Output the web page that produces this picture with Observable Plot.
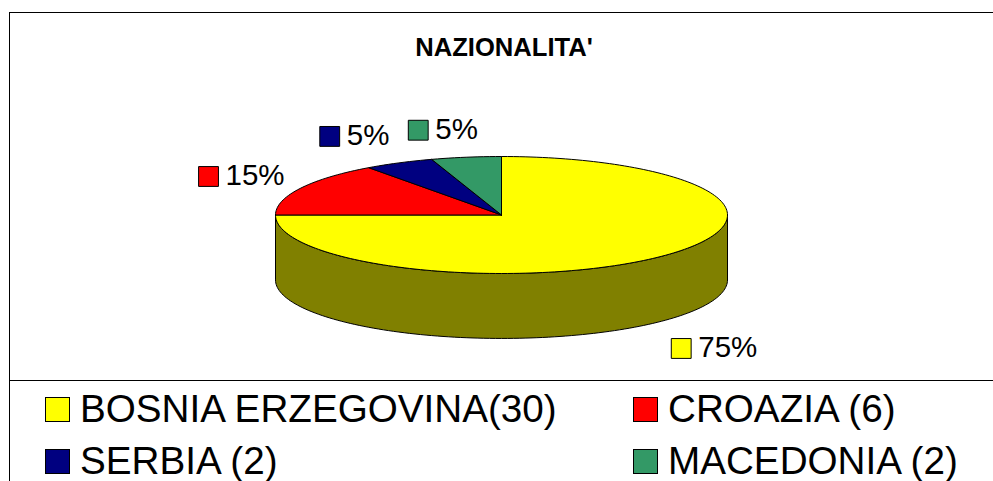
<!DOCTYPE html>
<html>
<head>
<meta charset="utf-8">
<script src="https://cdn.jsdelivr.net/npm/d3@7"></script>
<script src="https://cdn.jsdelivr.net/npm/@observablehq/plot@0.6"></script>
<style>
  html, body { margin: 0; padding: 0; background: #fff; }
  #page { position: relative; width: 993px; height: 481px; overflow: hidden; font-family: "Liberation Sans", Arial, sans-serif; }
  #chart { height: 380px; }
  #chart svg { display: block; }
  #edge { position: absolute; left: 9px; top: 12px; right: 0; bottom: 0; border-left: 1.5px solid #000; border-top: 1.5px solid #000; pointer-events: none; }
  #legend { position: absolute; left: 9px; right: 0; top: 380px; bottom: 0; border-top: 1.5px solid #000; }
  .item { position: absolute; display: flex; align-items: center; height: 40px; font-size: 38.65px; line-height: 40px; color: #000; white-space: nowrap; }
  .swatch { width: 23px; height: 23px; border: 1px solid #000; margin-right: 10px; flex: none; }
</style>
</head>
<body>
<div id="page">
  <div id="chart"></div>
  <div id="edge"></div>
  <div id="legend"></div>
</div>
<script>
const title = "NAZIONALITA'";
const names = ["BOSNIA ERZEGOVINA", "CROAZIA", "SERBIA", "MACEDONIA"];
const legendLabels = ["BOSNIA ERZEGOVINA(30)", "CROAZIA (6)", "SERBIA (2)", "MACEDONIA (2)"];
const counts = [30, 6, 2, 2];
const colors = ["#FFFF00", "#FF0000", "#000080", "#339966"];
const sideColor = "#808000";

// Layout only (not data)
const depth = 1.11;            // height of the pie's rim, in radii of the y scale
const reach = 1.45;            // label anchor distance along each slice's middle angle
const nudges = [[-52, 73.5], [-1, 0], [-23, -3], [-32, -1]];

const slices = d3.pie().sort(null)(counts);
const total = d3.sum(counts);
const arcPoint = (a) => ({ x: Math.sin(a), y: Math.cos(a) });

function sweep(a0, a1) {
  const n = Math.max(2, Math.ceil(Math.abs(a1 - a0) / (Math.PI / 120)));
  return d3.range(n + 1).map((i) => arcPoint(a0 + ((a1 - a0) * i) / n));
}

// The rim: lower half of the ellipse, dropped by the depth
const rimTop = sweep(Math.PI / 2, 1.5 * Math.PI);
const rim = [
  ...rimTop.map((p) => ({ ...p, y: p.y - depth })),
  ...rimTop.slice().reverse()
];
rim.push(rim[0]);

const wedges = slices.flatMap((s, i) => {
  const ring = [{ x: 0, y: 0 }, ...sweep(s.startAngle, s.endAngle), { x: 0, y: 0 }];
  return ring.map((p) => ({ ...p, name: names[i] }));
});

const labels = slices.map((s, i) => {
  const mid = (s.startAngle + s.endAngle) / 2;
  return {
    x: Math.sin(mid) * reach,
    y: Math.cos(mid) * reach,
    name: names[i],
    text: d3.format(".0%")(counts[i] / total),
    nudge: nudges[i]
  };
});

const chart = Plot.plot({
  width: 993,
  height: 380,
  margin: 0,
  x: { axis: null, domain: [-1, 1], range: [275, 727] },
  y: { axis: null, domain: [-1, 1], range: [273, 156] },
  color: { domain: names, range: colors },
  marks: [
    Plot.line(rim, { x: "x", y: "y", fill: sideColor, stroke: "#000", strokeWidth: 1, curve: "linear" }),
    Plot.line(wedges, { x: "x", y: "y", z: "name", fill: "name", stroke: "#000", strokeWidth: 1, curve: "linear" }),
    ...labels.flatMap((d) => [
      Plot.dot([d], { x: "x", y: "y", dx: d.nudge[0], dy: d.nudge[1], symbol: "square", r: 11.2, fill: "name", stroke: "#000", strokeWidth: 1 }),
      Plot.text([d], { x: "x", y: "y", dx: d.nudge[0] + 17, dy: d.nudge[1] - 1, text: "text", textAnchor: "start", fontSize: 29.5, fill: "#000", fontFamily: "Liberation Sans" })
    ]),
    Plot.text([title], { frameAnchor: "top", dx: 7, dy: 37, text: (d) => d, fontSize: 25.6, fontWeight: "bold", fill: "#000", fontFamily: "Liberation Sans" })
  ]
});
document.getElementById("chart").appendChild(chart);

const legend = document.getElementById("legend");
const legendLefts = [36, 624];
const legendTops = [8, 60];
legendLabels.forEach((label, i) => {
  const item = document.createElement("div");
  item.className = "item";
  item.style.left = legendLefts[i % 2] + "px";
  item.style.top = legendTops[Math.floor(i / 2)] + "px";
  const swatch = document.createElement("span");
  swatch.className = "swatch";
  swatch.style.background = colors[i];
  item.appendChild(swatch);
  item.appendChild(document.createTextNode(label));
  legend.appendChild(item);
});
</script>
</body>
</html>
